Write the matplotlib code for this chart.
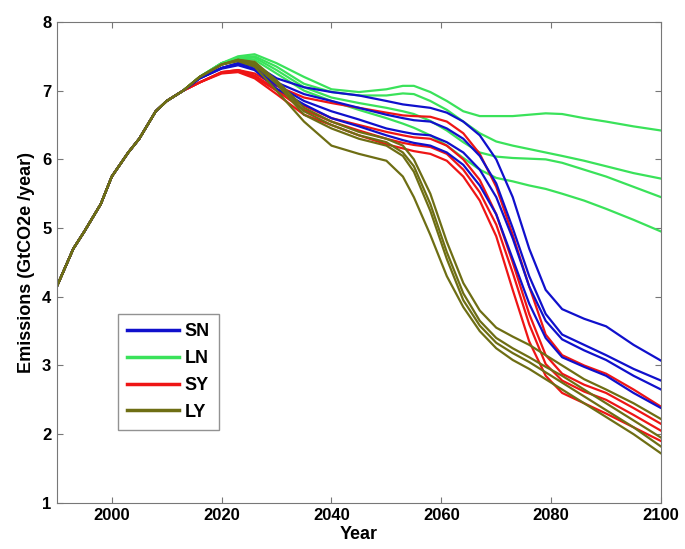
import numpy as np
import matplotlib
matplotlib.use("Agg")
import matplotlib.pyplot as plt

plt.rcParams['font.family'] = ['Liberation Sans', 'DejaVu Sans']
plt.rcParams['font.weight'] = 'bold'

# shared history (all scenarios identical)
years_hist = [1990, 1993, 1995, 1998, 2000, 2003, 2005, 2008, 2010, 2013]
emis_hist = [4.15, 4.7, 4.95, 5.35, 5.75, 6.1, 6.3, 6.7, 6.85, 7.0]

# scenario years
years_fut = [2016, 2020, 2023, 2026, 2030, 2035, 2040, 2045, 2050, 2053, 2055, 2058,
             2061, 2064, 2067, 2070, 2073, 2076, 2079, 2082, 2086, 2090, 2095, 2100]

sn = [
    [7.18, 7.33, 7.40, 7.38, 7.18, 7.05, 6.98, 6.93, 6.85, 6.80, 6.78, 6.75, 6.68, 6.55, 6.35, 6.00, 5.45, 4.70, 4.10, 3.82, 3.68, 3.57, 3.30, 3.07],
    [7.18, 7.33, 7.40, 7.35, 7.12, 6.95, 6.85, 6.75, 6.65, 6.60, 6.57, 6.55, 6.45, 6.30, 6.05, 5.65, 5.00, 4.30, 3.75, 3.45, 3.30, 3.15, 2.95, 2.78],
    [7.18, 7.33, 7.38, 7.32, 7.08, 6.85, 6.70, 6.58, 6.45, 6.40, 6.37, 6.35, 6.25, 6.10, 5.85, 5.45, 4.85, 4.15, 3.65, 3.38, 3.22, 3.08, 2.85, 2.65],
    [7.18, 7.32, 7.37, 7.30, 7.03, 6.80, 6.60, 6.48, 6.35, 6.28, 6.24, 6.20, 6.10, 5.92, 5.62, 5.20, 4.55, 3.90, 3.40, 3.12, 2.98, 2.85, 2.60, 2.38],
]
ln = [
    [7.20, 7.40, 7.50, 7.53, 7.40, 7.20, 7.02, 6.98, 7.02, 7.07, 7.07, 6.98, 6.85, 6.70, 6.63, 6.63, 6.63, 6.65, 6.67, 6.66, 6.60, 6.55, 6.48, 6.42],
    [7.20, 7.40, 7.48, 7.50, 7.35, 7.10, 6.98, 6.93, 6.93, 6.96, 6.95, 6.85, 6.72, 6.55, 6.38, 6.26, 6.20, 6.15, 6.10, 6.05, 5.98, 5.90, 5.80, 5.72],
    [7.20, 7.40, 7.47, 7.48, 7.30, 7.05, 6.90, 6.82, 6.75, 6.70, 6.66, 6.56, 6.42, 6.25, 6.10, 6.04, 6.02, 6.01, 6.00, 5.95, 5.85, 5.75, 5.60, 5.45],
    [7.20, 7.40, 7.46, 7.45, 7.25, 7.00, 6.85, 6.72, 6.60, 6.52, 6.46, 6.35, 6.20, 6.02, 5.85, 5.73, 5.68, 5.62, 5.57, 5.50, 5.40, 5.28, 5.12, 4.95],
]
sy = [
    [7.12, 7.27, 7.30, 7.25, 7.07, 6.90, 6.82, 6.75, 6.68, 6.64, 6.63, 6.62, 6.55, 6.38, 6.08, 5.60, 4.90, 4.15, 3.45, 3.15, 3.00, 2.88, 2.65, 2.40],
    [7.12, 7.27, 7.30, 7.22, 7.02, 6.78, 6.60, 6.50, 6.40, 6.35, 6.32, 6.30, 6.20, 6.00, 5.70, 5.20, 4.50, 3.75, 3.15, 2.88, 2.72, 2.60, 2.38, 2.15],
    [7.12, 7.26, 7.28, 7.20, 7.00, 6.72, 6.55, 6.42, 6.30, 6.24, 6.21, 6.18, 6.08, 5.85, 5.52, 5.05, 4.35, 3.60, 3.02, 2.78, 2.62, 2.50, 2.28, 2.05],
    [7.12, 7.25, 7.27, 7.18, 6.95, 6.65, 6.50, 6.35, 6.22, 6.16, 6.12, 6.08, 5.98, 5.75, 5.40, 4.88, 4.10, 3.35, 2.85, 2.60, 2.45, 2.30, 2.10, 1.90],
]
ly = [
    [7.20, 7.38, 7.45, 7.42, 7.15, 6.75, 6.55, 6.40, 6.30, 6.20, 6.00, 5.50, 4.80, 4.20, 3.80, 3.55, 3.42, 3.30, 3.15, 3.00, 2.80, 2.65, 2.45, 2.22],
    [7.20, 7.38, 7.45, 7.40, 7.12, 6.70, 6.50, 6.35, 6.25, 6.10, 5.90, 5.35, 4.65, 4.05, 3.65, 3.40, 3.25, 3.12, 2.98, 2.85, 2.65, 2.45, 2.20, 1.95],
    [7.20, 7.38, 7.44, 7.38, 7.10, 6.65, 6.45, 6.30, 6.20, 6.05, 5.82, 5.25, 4.55, 3.95, 3.58, 3.33, 3.18, 3.05, 2.90, 2.75, 2.55, 2.35, 2.10, 1.82],
    [7.20, 7.38, 7.43, 7.35, 7.00, 6.55, 6.20, 6.08, 5.98, 5.75, 5.45, 4.90, 4.30, 3.85, 3.50, 3.25, 3.08, 2.95, 2.80, 2.65, 2.45, 2.25, 2.00, 1.72],
]

scenarios = ['SN', 'LN', 'SY', 'LY']
colors = {'SN': '#1010cc', 'LN': '#3ae25a', 'SY': '#ee1515', 'LY': '#6e6e14'}
groups = {'SN': sn, 'LN': ln, 'SY': sy, 'LY': ly}

fig = plt.figure(figsize=(6.85, 5.49), dpi=100)
ax = fig.add_axes([0.083, 0.084, 0.882, 0.876])

x_all = years_hist + years_fut
for name in ['LN', 'SY', 'SN', 'LY']:
    for i, curve in enumerate(groups[name]):
        ax.plot(x_all, emis_hist + curve, color=colors[name], lw=1.6,
                label=name if i == 0 else None)

ax.set_xlim(1990, 2100)
ax.set_ylim(1, 8)
ax.set_xticks([2000, 2020, 2040, 2060, 2080, 2100])
ax.set_yticks(range(1, 9))
ax.tick_params(direction='in', top=True, right=True, labelsize=12,
               length=4, color='#777777', pad=4)
for s in ax.spines.values():
    s.set_color('#777777')
ax.set_xlabel('Year', fontsize=13, fontweight='bold', labelpad=2)
ax.set_ylabel('Emissions (GtCO2e /year)', fontsize=13, fontweight='bold', labelpad=5)

handles, labels = ax.get_legend_handles_labels()
order = [labels.index(s) for s in scenarios]
leg = ax.legend([handles[k] for k in order], scenarios, loc='lower left',
                bbox_to_anchor=(0.101, 0.152), borderaxespad=0, fancybox=False,
                handlelength=2.9, prop={'weight': 'bold', 'size': 13},
                labelspacing=0.55, borderpad=0.5, handletextpad=0.3)
leg.get_frame().set_edgecolor('#777777')
leg.get_frame().set_linewidth(1.0)
for h in leg.get_lines():
    h.set_linewidth(2.5)

fig.savefig('out.png', dpi=100)
